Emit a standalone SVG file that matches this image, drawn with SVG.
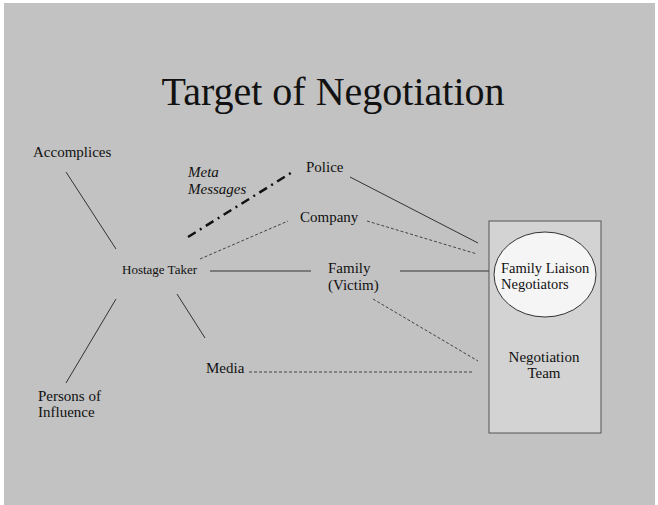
<svg xmlns="http://www.w3.org/2000/svg" width="658" height="505" viewBox="0 0 658 505">
<style>
text{font-family:"Liberation Serif","Times New Roman",serif;fill:#111;font-size:15px}
.title{font-size:40px}
.small{font-size:13px}
.it{font-style:italic}
.fl{font-size:14.5px}
.solid{stroke:#333;stroke-width:1;fill:none}
.dash{stroke:#444;stroke-width:1;stroke-dasharray:3 2;fill:none}
.dashdot{stroke:#111;stroke-width:2.5;stroke-dasharray:9 5 2 5;fill:none}
</style>
<rect x="0" y="0" width="658" height="505" fill="#ffffff"/>
<rect x="4" y="3" width="651" height="502" fill="#c2c2c2"/>
<text class="title" x="333" y="105" text-anchor="middle">Target of Negotiation</text>
<g id="connectors">
<line class="solid" x1="66" y1="172" x2="116" y2="249"/>
<line class="solid" x1="116" y1="299" x2="66" y2="383"/>
<line class="solid" x1="177" y1="294" x2="205" y2="338"/>
<line class="dashdot" x1="188" y1="237" x2="294" y2="171"/>
<line class="dash" x1="200" y1="259" x2="288" y2="221"/>
<line class="dash" x1="367" y1="221" x2="477" y2="254"/>
<line class="solid" x1="350" y1="177" x2="478" y2="243"/>
<line class="solid" x1="210" y1="271" x2="311" y2="271"/>
<line class="solid" x1="400" y1="271" x2="489" y2="271"/>
<line class="dash" x1="373" y1="299" x2="478" y2="361"/>
<line class="dash" x1="249" y1="372" x2="472" y2="372"/>
</g>
<g id="accomplices"><text x="33" y="157">Accomplices</text></g>
<g id="meta"><text class="it" x="188" y="177">Meta</text><text class="it" x="188" y="194">Messages</text></g>
<g id="police"><text x="306" y="172">Police</text></g>
<g id="company"><text x="300" y="222">Company</text></g>
<g id="hostage"><text class="small" x="122" y="274">Hostage Taker</text></g>
<g id="family"><text x="328" y="273">Family</text><text x="328" y="290">(Victim)</text></g>
<g id="media"><text x="206" y="373">Media</text></g>
<g id="persons"><text x="38" y="401">Persons of</text><text x="38" y="417">Influence</text></g>
<g id="team">
<rect x="489" y="221" width="112" height="212" fill="#d3d3d3" stroke="#555" stroke-width="1"/>
<text x="544" y="362" text-anchor="middle">Negotiation</text>
<text x="544" y="378" text-anchor="middle">Team</text>
</g>
<g id="liaison">
<ellipse cx="545" cy="274.5" rx="51" ry="42.5" fill="#f5f5f5" stroke="#333" stroke-width="1"/>
<text class="fl" x="501" y="273">Family Liaison</text>
<text class="fl" x="501" y="289">Negotiators</text>
</g>
</svg>
